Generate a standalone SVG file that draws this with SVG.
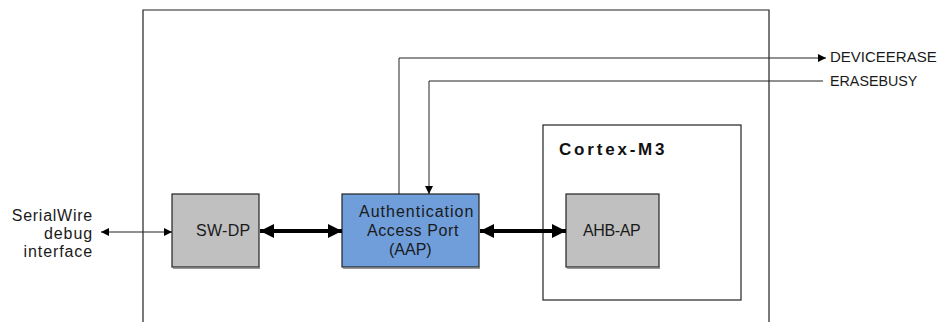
<svg xmlns="http://www.w3.org/2000/svg" width="942" height="322" viewBox="0 0 942 322">
<defs>
<style>
.t{font-family:"Liberation Sans",Arial,sans-serif;font-size:15px;fill:#1a1a1a}
.n{font-family:"Liberation Sans",Arial,sans-serif;font-size:16px;fill:#1a1a1a}
.box{stroke:#222;stroke-width:1.2}
.gray{fill:#c0c0c0}
.blue{fill:#6f9edb}
.frame{fill:none;stroke:#222;stroke-width:1.2}
.thin{fill:none;stroke:#222;stroke-width:1}
.thick{fill:none;stroke:#000;stroke-width:4}
.shadow{stroke:#777;stroke-width:1.5}
</style>
<marker id="ah" viewBox="0 0 10 10" refX="10" refY="5" markerWidth="9" markerHeight="8" markerUnits="userSpaceOnUse" orient="auto-start-reverse"><path d="M0,0 L10,5 L0,10 z" fill="#000"/></marker>
<marker id="ahT" viewBox="0 0 10 10" refX="10" refY="5" markerWidth="15" markerHeight="14" markerUnits="userSpaceOnUse" orient="auto-start-reverse"><path d="M0,0 L10,5 L0,10 z" fill="#000"/></marker>
</defs>
<rect width="942" height="322" fill="#fff"/>
<g id="outer"><path class="frame" d="M143,322 V10 H769 V322"/></g>
<g id="cortex">
<rect class="frame" x="543" y="125" width="198" height="175"/>
<text x="559" y="155" style="font-family:'Liberation Sans',Arial,sans-serif;font-size:17px;font-weight:bold;letter-spacing:2.8px;fill:#111">Cortex-M3</text>
</g>
<g id="swdp">
<rect class="box gray" x="172" y="194" width="87" height="73"/>
<line class="shadow" x1="173" y1="268" x2="260" y2="268"/>
<text class="n" x="196" y="236" style="letter-spacing:0.3px">SW-DP</text>
</g>
<g id="aap">
<rect class="box blue" x="342" y="194" width="137" height="73"/>
<line class="shadow" x1="343" y1="268" x2="480" y2="268"/>
<text class="n" x="359" y="217" style="letter-spacing:1px">Authentication</text>
<text class="n" x="367" y="236" style="letter-spacing:0.6px">Access Port</text>
<text class="n" x="389" y="255">(AAP)</text>
</g>
<g id="ahbap">
<rect class="box gray" x="566" y="194" width="93" height="73"/>
<line class="shadow" x1="567" y1="268" x2="660" y2="268"/>
<text class="n" x="583" y="236" style="letter-spacing:-0.4px">AHB-AP</text>
</g>
<g id="labels">
<text class="n" x="93" y="221" text-anchor="end" style="letter-spacing:0.75px">SerialWire</text>
<text class="n" x="93" y="239" text-anchor="end" style="letter-spacing:0.9px">debug</text>
<text class="n" x="93" y="257" text-anchor="end" style="letter-spacing:0.9px">interface</text>
<text class="t" x="830" y="62">DEVICEERASE</text>
<text class="t" x="830" y="86" style="font-size:14.3px">ERASEBUSY</text>
</g>
<g id="connectors">
<line class="thin" x1="101" y1="232" x2="172" y2="232" marker-start="url(#ah)" marker-end="url(#ah)"/>
<line class="thick" x1="260" y1="231" x2="342" y2="231" marker-start="url(#ahT)" marker-end="url(#ahT)"/>
<line class="thick" x1="480" y1="231" x2="566" y2="231" marker-start="url(#ahT)" marker-end="url(#ahT)"/>
<path class="thin" d="M399,194 V58 H826" marker-end="url(#ah)"/>
<path class="thin" d="M823,81 H429 V194" marker-end="url(#ah)"/>
</g>
</svg>
